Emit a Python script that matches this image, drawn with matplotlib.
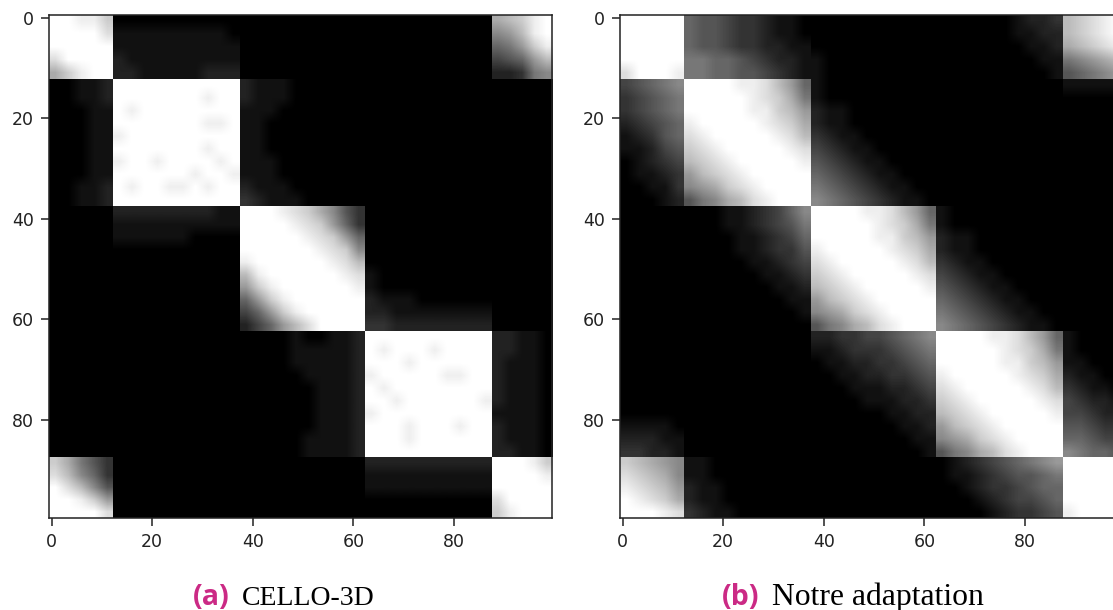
import numpy as np
import matplotlib
matplotlib.use("Agg")
import matplotlib.pyplot as plt

W, H = 1113, 610

# Similarity, one row per 2.5 units, hex digit 0 (black) .. f (white).
cello_rows = [
 "ffeec 00000 00000 00000 00000 00000 00000 abcef",
 "ffffd 11111 11110 00000 00000 00000 00000 89bef",
 "fffff 11111 11111 00000 00000 00000 00000 679ce",
 "dffff 21111 11111 00000 00000 00000 00000 4569b",
 "aceff 22111 11222 00000 00000 00000 00000 22378",
 "00112 fffff fffff 21110 00000 00000 00000 00000",
 "00112 fffff ffeff 21110 00000 00000 00000 00000",
 "00011 fefff fffff 11100 00000 00000 00000 00000",
 "00011 fffff ffeef 11000 00000 00000 00000 00000",
 "00011 effff fffff 11000 00000 00000 00000 00000",
 "00011 fffff ffeff 11000 00000 00000 00000 00000",
 "00011 effef fffef 11100 00000 00000 00000 00000",
 "00011 fffff feffe 11100 00000 00000 00000 00000",
 "00112 feffe efeff 21110 00000 00000 00000 00000",
 "00112 fffff fffff 32111 00000 00000 00000 00000",
 "00000 22222 22211 fffed ca853 00000 00000 00000",
 "00000 11111 11111 ffffe dc963 00000 00000 00000",
 "00000 11111 10000 fffff edc96 00000 00000 00000",
 "00000 00000 00000 fffff fedc8 00000 00000 00000",
 "00000 00000 00000 effff ffedb 00000 00000 00000",
 "00000 00000 00000 befff fffed 10000 00000 00000",
 "00000 00000 00000 9ceff ffffe 10000 00000 00000",
 "00000 00000 00000 69cef fffff 21110 00000 00000",
 "00000 00000 00000 469ce fffff 22111 11111 00000",
 "00000 00000 00000 2469b dffff 33222 22222 00000",
 "00000 00000 00000 00001 00112 fffff fffff 22110",
 "00000 00000 00000 00001 11112 fefff effff 22110",
 "00000 00000 00000 00001 11112 fffef fffff 21110",
 "00000 00000 00000 00000 11112 effff feeff 21110",
 "00000 00000 00000 00000 01112 fefff fffff 21110",
 "00000 00000 00000 00000 01112 ffeff ffffe 21110",
 "00000 00000 00000 00000 01112 effff fffff 11110",
 "00000 00000 00000 00000 01112 fffef ffeff 21110",
 "00000 00000 00000 00000 11112 fffef fffff 21110",
 "00000 00000 00000 00000 11112 fffff fffff 22110",
 "ca753 00000 00000 00000 00000 22222 22222 fffec",
 "db863 00000 00000 00000 00000 11111 11111 ffffe",
 "fdb85 00000 00000 00000 00000 11111 11111 fffff",
 "ffec9 00000 00000 00000 00000 00000 00000 dffff",
 "ffffd 00000 00000 00000 00000 00000 00000 cefff",
]

adaptation_rows = [
 "fffff 65543 32110 00000 00000 00000 01223 bcdef",
 "fffff 65543 32110 00000 00000 00000 01122 bcdef",
 "fffff 65543 32211 00000 00000 00000 00112 abcde",
 "fffff 77665 43221 10000 00000 00000 00011 789ab",
 "dfffe 77665 54321 10000 00000 00000 00001 56789",
 "45678 ffffe edb96 10000 00000 00000 00000 11111",
 "34567 fffff edca7 10000 00000 00000 00000 00000",
 "34567 fffff eecb9 21100 00000 00000 00000 00000",
 "23456 effff fedca 21100 00000 00000 00000 00000",
 "12356 defff ffedb 32110 00000 00000 00000 00000",
 "11245 cdeff fffed 43211 00000 00000 00000 00000",
 "01234 bcdef ffffe 54321 10000 00000 00000 00000",
 "01123 9bcde fffff 65432 11000 00000 00000 00000",
 "00113 89acd effff 76543 21100 00000 00000 00000",
 "00012 578ab defff 87654 32110 00000 00000 00000",
 "00000 00011 23468 ffffe edb96 10000 00000 00000",
 "00000 00011 23457 fffff edca7 10000 00000 00000",
 "00000 00001 12346 fffff eecb9 21100 00000 00000",
 "00000 00001 12335 effff fedca 21100 00000 00000",
 "00000 00000 11234 defff ffedb 32110 00000 00000",
 "00000 00000 01123 cdeff fffed 43211 00000 00000",
 "00000 00000 00112 bcdef ffffe 54321 10000 00000",
 "00000 00000 00011 9bcde fffff 65432 11000 00000",
 "00000 00000 00001 89acd effff 76543 21100 00000",
 "00000 00000 00000 578ab defff 87654 32110 00000",
 "00000 00000 00000 22334 45678 ffffe edb96 10000",
 "00000 00000 00000 11233 34567 fffff edca7 10000",
 "00000 00000 00000 01122 33456 fffff eecb9 11000",
 "00000 00000 00000 00112 23345 effff fedca 21100",
 "00000 00000 00000 00011 12234 defff ffedb 32110",
 "00000 00000 00000 00001 11223 cdeff fffed 43221",
 "00000 00000 00000 00000 01122 bcdef ffffe 44322",
 "11110 00000 00000 00000 00112 9bcde fffff 55433",
 "22211 00000 00000 00000 00011 89acd effff 66544",
 "33221 00000 00000 00000 00001 578ab defff 87665",
 "cba98 11000 00000 00000 00000 01234 56789 fffff",
 "dcba8 11000 00000 00000 00000 01123 45567 fffff",
 "edcb9 21100 00000 00000 00000 00123 34566 fffff",
 "fedca 21100 00000 00000 00000 00012 34456 fffff",
 "fffed 32110 00000 00000 00000 00001 23345 effff",
]

ticks = [0, 20, 40, 60, 80]
caption_tags = ["(a)", "(b)"]
caption_names = ["CELLO-3D", "Notre adaptation"]
caption_color = "#CB2A85"


def parse(rows):
    return np.array([[int(c, 16) / 15 for c in r.replace(" ", "")] for r in rows])


edges = [0, 5, 15, 25, 35, 40]  # block limits in matrix rows
data_edges = [-0.5, 12.3, 37.5, 62.3, 87.5, 99.5]  # same limits on the axes

fig = plt.figure(figsize=(W / 100, H / 100), dpi=100)
panels = [(49, cello_rows), (620, adaptation_rows)]
caption_px = [(193, 242), (722, 772)]
name_sizes = [20, 22.8]
for (left, rows), tag, name, (x1, x2), size in zip(panels, caption_tags, caption_names, caption_px, name_sizes):
    ax = fig.add_axes([left / W, (H - 518) / H, 503 / W, 503 / H])
    m = parse(rows)
    for i in range(5):
        for j in range(5):
            ax.imshow(m[edges[i]:edges[i + 1], edges[j]:edges[j + 1]], cmap="gray", vmin=0, vmax=1,
                      extent=(data_edges[j], data_edges[j + 1], data_edges[i + 1], data_edges[i]),
                      interpolation="bilinear", aspect="equal")
    ax.set_xlim(-0.5, 99.5)
    ax.set_ylim(99.5, -0.5)
    ax.set_xticks(ticks)
    ax.set_yticks(ticks)
    ax.tick_params(labelsize=12.5, length=6, width=1.1, colors="#222222", pad=5)
    for s in ax.spines.values():
        s.set_linewidth(1.1)
        s.set_color("#222222")
    fig.text(x1 / W, (H - 605) / H, tag, color=caption_color, fontsize=20.5,
             family="Open Sans", weight="bold", va="baseline")
    fig.text(x2 / W, (H - 605) / H, name, color="black", fontsize=size,
             family="Liberation Serif", va="baseline")

fig.savefig("out.png", dpi=100)
